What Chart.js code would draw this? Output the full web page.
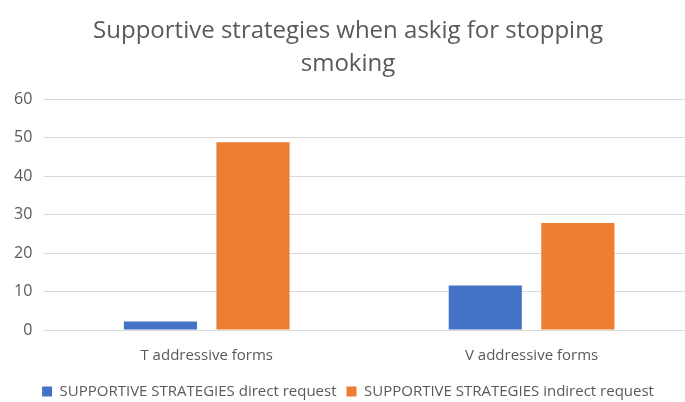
<!DOCTYPE html>
<html>
<head>
<meta charset="utf-8">
<script src="https://cdn.jsdelivr.net/npm/chart.js@4"></script>
<style>
  html, body { margin: 0; padding: 0; background: #fff; overflow: hidden; }
  #wrap { width: 694px; height: 402px; position: relative; }
</style>
</head>
<body>
<div id="wrap"><canvas id="chart"></canvas></div>
<script>
// categories and series
const categories = ['T addressive forms', 'V addressive forms'];
const directRequest = [2.2, 11.6];
const indirectRequest = [48.8, 27.8];
const titleLines = ['Supportive strategies when askig for stopping', 'smoking'];

const grey = '#595959';
const font = "'Open Sans', 'Noto Sans', sans-serif";

new Chart(document.getElementById('chart'), {
    type: 'bar',
    data: {
        labels: categories,
        datasets: [
            { label: 'SUPPORTIVE STRATEGIES direct request', data: directRequest, backgroundColor: '#4472c4' },
            { label: 'SUPPORTIVE STRATEGIES indirect request', data: indirectRequest, backgroundColor: '#ed7d31' }
        ]
    },
    options: {
        responsive: true,
        maintainAspectRatio: false,
        animation: false,
        categoryPercentage: 0.57,
        barPercentage: 0.79,
        layout: { padding: { left: 2, right: 0, top: 14, bottom: -7 } },
        plugins: {
            title: {
                display: true,
                text: titleLines,
                color: grey,
                font: { family: font, size: 24, weight: 'normal', lineHeight: 1.4 },
                padding: { top: 0, bottom: 18 }
            },
            legend: {
                position: 'bottom',
                labels: {
                    color: grey,
                    font: { family: font, size: 15 },
                    boxWidth: 10,
                    boxHeight: 10,
                    padding: 10
                }
            },
            tooltip: { enabled: false }
        },
        scales: {
            x: {
                grid: { display: false },
                border: { display: false },
                ticks: { color: grey, font: { family: font, size: 15 }, padding: 9 }
            },
            y: {
                min: 0,
                max: 60,
                ticks: { stepSize: 10, color: grey, font: { family: font, size: 16 }, padding: 12 },
                grid: { color: '#d9d9d9', lineWidth: 1, drawTicks: false },
                border: { display: false }
            }
        }
    }
});
</script>
</body>
</html>
